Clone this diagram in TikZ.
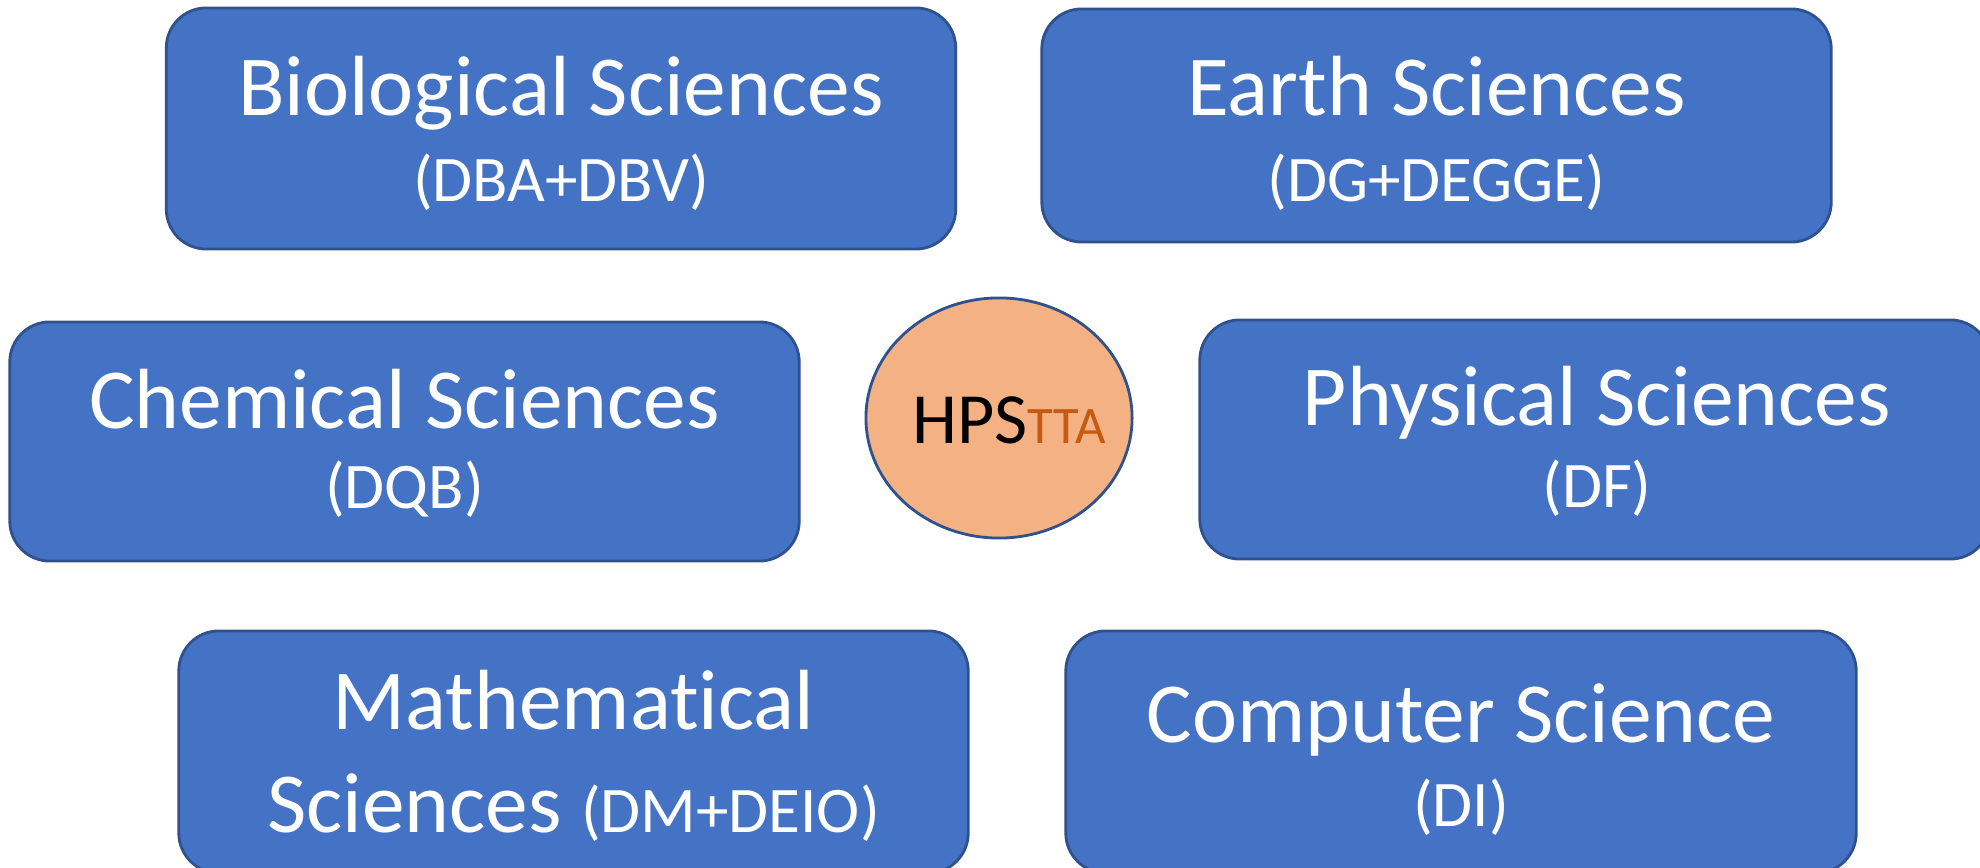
\documentclass[tikz,border=0pt]{standalone}
\usepackage{fontspec}
\setmainfont{Carlito}[Ligatures=NoCommon]
\definecolor{boxblue}{HTML}{4472C4}
\definecolor{boxedge}{HTML}{2F528F}
\definecolor{hpsfill}{HTML}{F4B183}
\definecolor{ttaorange}{HTML}{C55A11}
\tikzset{
  sciencebox/.style={draw=boxedge, fill=boxblue, line width=0.8pt, rounded corners=0.4cm, inner sep=0pt},
  bigtext/.style={text=white, anchor=base, inner sep=0pt, font=\fontsize{24.3}{29}\selectfont},
  smalltext/.style={text=white, anchor=base, inner sep=0pt, font=\fontsize{18.5}{22}\selectfont}
}
\begin{document}
\begin{tikzpicture}[x=0.01cm,y=-0.01cm]
		\useasboundingbox (0,0) rectangle (1980,868);
		
		% Boxes
		\node[sciencebox, minimum width=7.89cm, minimum height=2.41cm] (bio) at (561,128.5) {};
		\node[sciencebox, minimum width=7.89cm, minimum height=2.33cm] (earth) at (1436.5,125.5) {};
		\node[sciencebox, minimum width=7.89cm, minimum height=2.39cm] (chem) at (404.5,441.5) {};
		\node[sciencebox, minimum width=7.90cm, minimum height=2.39cm] (phys) at (1595,439.5) {};
		\node[sciencebox, minimum width=7.89cm, minimum height=2.42cm] (math) at (573.5,752) {};
		\node[sciencebox, minimum width=7.90cm, minimum height=2.42cm] (comp) at (1461,752) {};
		
		% Labels
		\node[bigtext] (biot) at (561,116) {Biological Sciences};
		\node[smalltext] (bios) at (561,202) {(DBA+DBV)};
		\node[bigtext] (eartht) at (1436.5,116) {Earth Sciences};
		\node[smalltext] (earths) at (1436.5,202) {(DG+DEGGE)};
		\node[bigtext] (chemt) at (404.5,429) {Chemical Sciences};
		\node[smalltext] (chems) at (404.5,509) {(DQB)};
		\node[bigtext] (physt) at (1597,426) {Physical Sciences};
		\node[smalltext] (physs) at (1597,508) {(DF)};
		\node[bigtext] (matht) at (573.5,730) {Mathematical};
		\node[bigtext] (maths) at (573.5,832) {Sciences {\fontsize{18.5}{22}\selectfont(DM+DEIO)}};
		\node[bigtext] (compt) at (1461,743) {Computer Science};
		\node[smalltext] (comps) at (1461,827) {(DI)};
		
		% Centre
		\draw[boxedge, fill=hpsfill, line width=0.8pt] (999,418) ellipse (1.33cm and 1.20cm);
		\node[anchor=base, inner sep=0pt] (hps) at (1009,444) {\fontsize{20.5}{25}\selectfont HPS{\color{ttaorange}\fontsize{15}{18}\selectfont TTA}};
	\end{tikzpicture}
\end{document}
